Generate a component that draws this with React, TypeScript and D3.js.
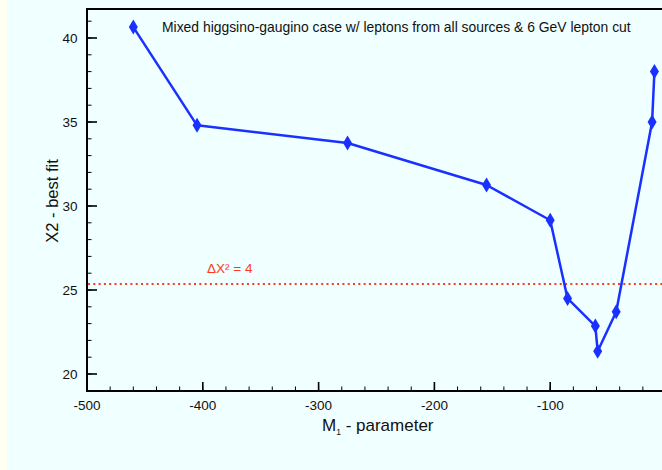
import * as d3 from 'd3';

const m1Values = [-460, -405, -275, -155, -100, -85, -61, -59, -43, -12, -10];
const chi2Values = [40.65, 34.8, 33.75, 31.25, 29.15, 24.5, 22.85, 21.35, 23.7, 35.0, 38.0];
const xTickValues = [-500, -400, -300, -200, -100];
const yTickValues = [20, 25, 30, 35, 40];
const cutLevel = 25.36;
const title = 'Mixed higgsino-gaugino case w/ leptons from all sources & 6 GeV lepton cut';

const W = 662;
const H = 470;

const App = () => {
  const x = d3.scaleLinear().domain([-500, 0]).range([87, 666]);
  const y = d3.scaleLinear().domain([20, 40]).range([374, 38]);
  const top = 9;
  const bottom = 391;
  const left = 87;

  const pts = m1Values.map((v, i) => [x(v), y(chi2Values[i])] as [number, number]);
  const line = d3.line()(pts) || '';

  const xMinor = d3.range(-500, 1, 20);
  const yMinor = d3.range(19, 42, 1);

  return (
    <svg width={W} height={H} style={{ position: 'absolute', left: 0, top: 0 }}
      fontFamily="'Liberation Sans', Arial, sans-serif">
      <rect x={0} y={0} width={W} height={H} fill="#f0ffff" />
      <rect x={0} y={0} width={7} height={H} fill="#fffff2" />

      {/* minor ticks */}
      {xMinor.map(v => (
        <line key={'xm' + v} x1={x(v)} x2={x(v)} y1={bottom} y2={bottom - 4.5} stroke="#000" strokeWidth={1} />
      ))}
      {xTickValues.map(v => (
        <line key={'xM' + v} x1={x(v)} x2={x(v)} y1={bottom} y2={bottom - 9} stroke="#000" strokeWidth={1.6} />
      ))}
      {yMinor.map(v => (
        <line key={'ym' + v} x1={left} x2={left + 4.5} y1={y(v)} y2={y(v)} stroke="#000" strokeWidth={1} />
      ))}
      {yTickValues.map(v => (
        <line key={'yM' + v} x1={left} x2={left + 10} y1={y(v)} y2={y(v)} stroke="#000" strokeWidth={1.6} />
      ))}

      {/* frame */}
      <line x1={left} x2={W} y1={top} y2={top} stroke="#000" strokeWidth={2} />
      <line x1={left} x2={W} y1={bottom} y2={bottom} stroke="#000" strokeWidth={2} />
      <line x1={left} x2={left} y1={top - 1} y2={bottom + 1} stroke="#000" strokeWidth={2} />

      {/* tick labels */}
      {xTickValues.map(v => (
        <text key={'xl' + v} x={x(v)} y={409.5} fontSize={13.5} textAnchor="middle" fill="#111">{v}</text>
      ))}
      {yTickValues.map(v => (
        <text key={'yl' + v} x={77.5} y={y(v) + 5} fontSize={13.5} textAnchor="end" fill="#111">{v}</text>
      ))}

      {/* axis titles */}
      <text x={322} y={431} fontSize={17} fill="#111">
        M<tspan fontSize={8.5} dy={4}>1</tspan><tspan dy={-4}> - parameter</tspan>
      </text>
      <text transform="translate(58,201) rotate(-90)" fontSize={16.5} textAnchor="middle" fill="#111">
        Χ2 - best fit
      </text>

      {/* title */}
      <text x={162} y={31.5} fontSize={13.9} fill="#111">{title}</text>

      {/* cut line */}
      <line x1={left + 1} x2={W} y1={y(cutLevel)} y2={y(cutLevel)} stroke="#ff3a1a" strokeWidth={2}
        strokeDasharray="2,3.3" />
      <text x={207} y={273} fontSize={13.5} fill="#ff3a1a">ΔX² = 4</text>

      {/* data */}
      <path d={line} fill="none" stroke="#1a30ff" strokeWidth={2.5} strokeLinejoin="round" />
      {pts.map(([px, py], i) => (
        <path key={'d' + i} d={`M${px},${py - 7.5}L${px + 4.5},${py}L${px},${py + 7.5}L${px - 4.5},${py}Z`}
          fill="#1a30ff" />
      ))}
    </svg>
  );
};

export default App;
